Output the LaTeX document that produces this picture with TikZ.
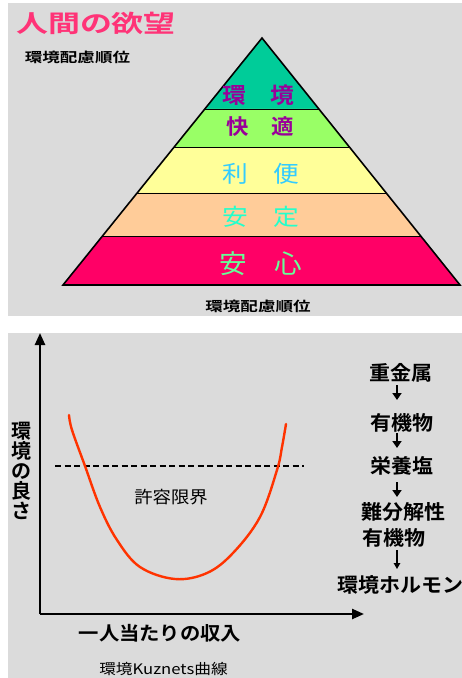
\documentclass[tikz,border=0pt]{standalone}
\usepackage{fontspec}
\usepackage{graphicx}
\usetikzlibrary{arrows.meta,calc}
\newfontfamily\jp{Noto Sans CJK JP}[BoldFont={Noto Sans CJK JP Bold}]
\newcommand\hsc[2]{\scalebox{#1}[1]{#2}}
\newcommand\fsz[1]{\fontsize{#1}{#1}\selectfont}
\definecolor{bggray}{HTML}{DBDBDB}
\definecolor{bandA}{HTML}{00CC99}
\definecolor{bandB}{HTML}{99FF66}
\definecolor{bandC}{HTML}{FFFF99}
\definecolor{bandD}{HTML}{FFCC99}
\definecolor{bandE}{HTML}{FF0066}
\definecolor{titlepink}{HTML}{FF3377}
\definecolor{txpurple}{HTML}{990099}
\definecolor{txblue}{HTML}{33CCFF}
\definecolor{txcyan}{HTML}{22FFCC}
\definecolor{txgreen}{HTML}{66FF99}
\definecolor{curvered}{HTML}{FF3300}
\begin{document}
\begin{tikzpicture}[x=1pt,y=-1pt,
  every node/.style={inner sep=0pt,font=\jp},
  panel/.style={fill=bggray,draw=none},
  axisline/.style={line width=2.4pt,-{Triangle[length=12pt,width=10pt]}},
  flowarrow/.style={line width=2.6pt,-{Triangle[length=7pt,width=9pt]}},
  thinarrow/.style={line width=1.3pt,-{Triangle[length=6pt,width=6.5pt]}},
  flowtext/.style={font=\jp\bfseries\fsz{20}}]
\useasboundingbox (0,0) rectangle (462,678);
% panels
\path[panel] (8,3) rectangle (462,316);
\path[panel] (8,333) rectangle (462,678);

% ---------- top: pyramid ----------
\node[text=titlepink,font=\jp\bfseries\fsz{24}] (title) at (96,23) {\hsc{1.33}{人間の欲望}};
\node[font=\jp\bfseries\fsz{13.5}] (rankA) at (77.5,57) {\hsc{1.3}{環境配慮順位}};
\node[font=\jp\bfseries\fsz{13.5}] (rankB) at (258,306) {\hsc{1.3}{環境配慮順位}};

\coordinate (A) at (262,38);
\coordinate (L) at (63,285);
\coordinate (R) at (460,285);
\coordinate (L1) at ($(A)!0.2874!(L)$); \coordinate (R1) at ($(A)!0.2874!(R)$);
\coordinate (L2) at ($(A)!0.4413!(L)$); \coordinate (R2) at ($(A)!0.4413!(R)$);
\coordinate (L3) at ($(A)!0.6275!(L)$); \coordinate (R3) at ($(A)!0.6275!(R)$);
\coordinate (L4) at ($(A)!0.8016!(L)$); \coordinate (R4) at ($(A)!0.8016!(R)$);
\fill[bandA] (A) -- (R1) -- (L1) -- cycle;
\fill[bandB] (L1) -- (R1) -- (R2) -- (L2) -- cycle;
\fill[bandC] (L2) -- (R2) -- (R3) -- (L3) -- cycle;
\fill[bandD] (L3) -- (R3) -- (R4) -- (L4) -- cycle;
\fill[bandE] (L4) -- (R4) -- (R) -- (L) -- cycle;
\draw[line width=0.9pt] (L1) -- (R1) (L2) -- (R2) (L3) -- (R3) (L4) -- (R4);
\draw[line width=1.6pt,line join=miter] (A) -- (R) -- (L) -- cycle;

\node[text=txpurple,font=\jp\bfseries\fsz{22}] (t1) at (258.5,95) {\hsc{1.08}{環　境}};
\node[text=txpurple,font=\jp\bfseries\fsz{21}] (t2) at (260.5,127) {\hsc{1.07}{快　適}};
\node[text=txblue,font=\jp\fsz{23}] (t3) at (261,174) {\hsc{1.12}{利　便}};
\node[text=txcyan,font=\jp\fsz{23}] (t4) at (261,217) {\hsc{1.12}{安　定}};
\node[text=txgreen,font=\jp\fsz{26}] (t5) at (260.5,264) {\hsc{1.06}{安　心}};

% ---------- bottom: Kuznets ----------
\coordinate (O) at (40,614);
\coordinate (Ytop) at (40,333);
\coordinate (Xend) at (364,614);
\draw[axisline] (O) -- (Ytop);
\draw[axisline] (O) -- (Xend);

\coordinate (dashL) at (55,466);
\coordinate (dashR) at (304,466);
\draw[line width=1.2pt,dash pattern=on 6pt off 3.5pt] (dashL) -- (dashR);

\draw[curvered,line width=2.4pt,line cap=round] plot[smooth,tension=0.6] coordinates
  {(69,415) (72,430) (85,466) (100,507) (117,540) (140,567) (175,579) (207,573) (233,553) (260,517) (277,470) (282,447) (286,424)};

\node[font=\jp\fsz{17}] (limit) at (171,497) {\hsc{1.08}{許容限界}};

\node[font=\jp\bfseries\fsz{20},align=center] (ylab) at (21,471)
  {\fontsize{20}{21}\selectfont 環\\境\\の\\良\\さ};
\node[font=\jp\bfseries\fsz{19}] (xlab) at (160,633) {\hsc{1.07}{一人当たりの収入}};
\node[font=\jp\fsz{14.5}] (cap) at (163.5,669) {\hsc{1.15}{環境Kuznets曲線}};

% flow column
\coordinate (ax) at (397,0);
\node[flowtext] (f1) at (401,373) {\hsc{1.05}{重金属}};
\node[flowtext] (f2) at (402,423) {\hsc{1.05}{有機物}};
\node[flowtext] (f3) at (402,466) {\hsc{1.05}{栄養塩}};
\node[flowtext] (f4) at (403,512) {\hsc{1.05}{難分解性}};
\node[flowtext] (f5) at (394,538) {\hsc{1.05}{有機物}};
\node[flowtext] (f6) at (400,585) {\hsc{1.05}{環境ホルモン}};
\draw[flowarrow] ($(f1.center -| ax)+(0,12)$) -- ($(f2.center -| ax)+(0,-23)$);
\draw[flowarrow] ($(f2.center -| ax)+(0,10)$) -- ($(f3.center -| ax)+(0,-18)$);
\draw[flowarrow] ($(f3.center -| ax)+(0,16)$) -- ($(f4.center -| ax)+(0,-15)$);
\draw[thinarrow] ($(f5.center -| ax)+(0,12)$) -- ($(f6.center -| ax)+(0,-16)$);
\end{tikzpicture}
\end{document}
